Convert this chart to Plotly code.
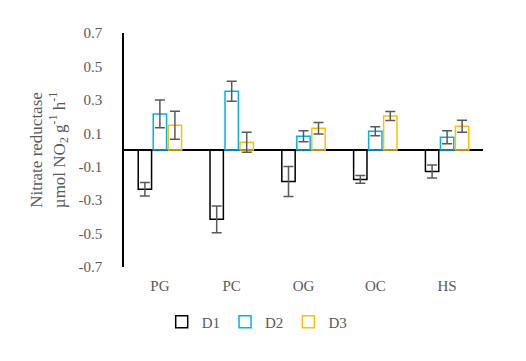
import plotly.graph_objects as go

categories = ["PG", "PC", "OG", "OC", "HS"]
d1 = [-0.235, -0.415, -0.188, -0.176, -0.128]
d1_err = [0.04, 0.08, 0.09, 0.023, 0.039]
d2 = [0.216, 0.351, 0.082, 0.112, 0.076]
d2_err = [0.083, 0.06, 0.033, 0.027, 0.039]
d3 = [0.148, 0.046, 0.13, 0.204, 0.142]
d3_err = [0.084, 0.06, 0.034, 0.027, 0.036]
series = [("D1", d1, d1_err, "#000000"), ("D2", d2, d2_err, "#00B0F0"), ("D3", d3, d3_err, "#FFC000")]
yticks = [0.7, 0.5, 0.3, 0.1, -0.1, -0.3, -0.5, -0.7]

FONT = "Liberation Serif, Times New Roman, serif"
fig = go.Figure()
for name, vals, errs, col in series:
    fig.add_trace(go.Bar(
        x=categories, y=vals, name=name,
        marker=dict(color="rgba(255,255,255,0)", line=dict(color=col, width=1.5)),
        error_y=dict(type="data", array=errs, visible=True, color="#595959", thickness=1.5, width=5),
    ))

fig.update_layout(
    width=510, height=345,
    margin=dict(l=116, r=35, t=25, b=86, autoexpand=False),
    paper_bgcolor="white", plot_bgcolor="white",
    barmode="group", bargap=0.373, bargroupgap=0.11,
    font=dict(family=FONT, size=15, color="#595959"),
    showlegend=True,
    legend=dict(orientation="h", x=0.105, xanchor="left", y=-0.165, yanchor="top",
                font=dict(size=15, color="#595959"), itemwidth=30, tracegroupgap=0),
)
fig.update_xaxes(showline=False, showgrid=False, ticks="outside", ticklen=5, automargin=False,
                 tickcolor="rgba(0,0,0,0)", tickfont=dict(size=15, color="#595959"))
fig.update_yaxes(range=[-0.7, 0.7], tickvals=yticks, ticktext=[f"{v:.1f}" for v in yticks],
                 showgrid=False, showline=True, linecolor="black", linewidth=1.5, automargin=False,
                 zeroline=True, zerolinecolor="black", zerolinewidth=1.5,
                 ticks="outside", ticklen=17, tickcolor="rgba(0,0,0,0)",
                 tickfont=dict(size=15, color="#595959"),
                 title=dict(text="Nitrate reductase<br>µmol NO<sub>2</sub> g<sup>-1</sup> h<sup>-1</sup>",
                            font=dict(size=17, color="#595959"), standoff=9))
fig.write_html("out.html")
